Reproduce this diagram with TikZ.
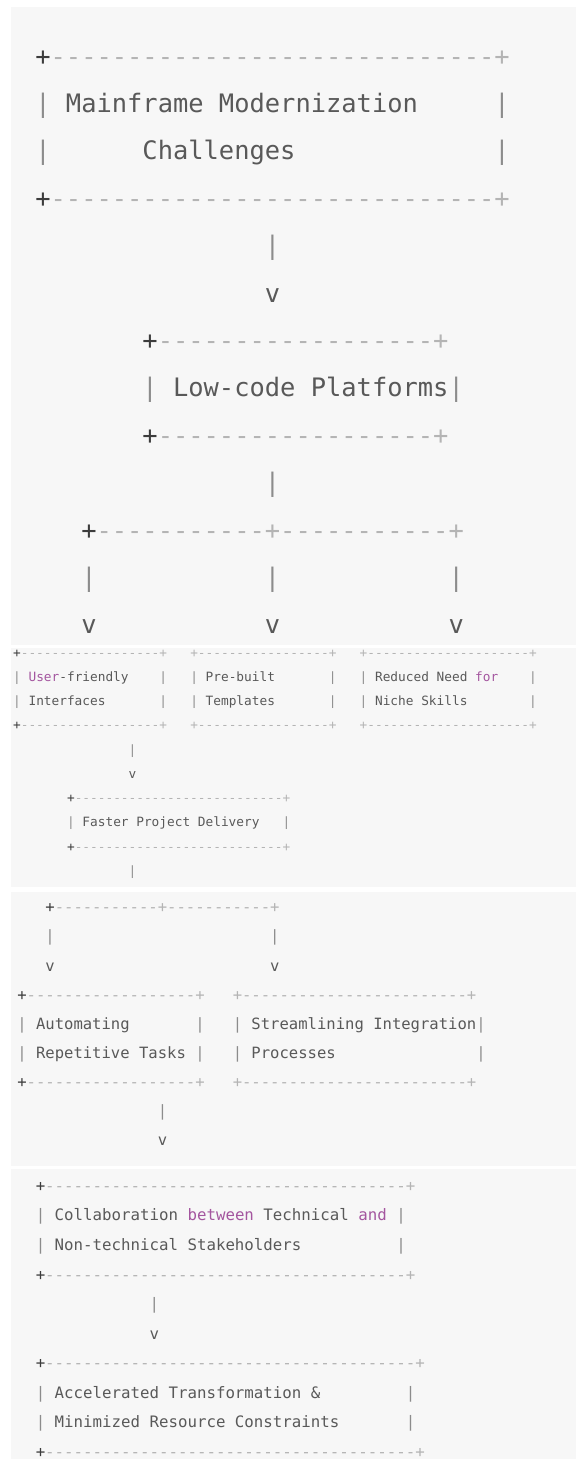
\documentclass[tikz,border=0pt]{standalone}
\usepackage{fontspec}
\setmonofont{DejaVu Sans Mono}
\definecolor{panelbg}{HTML}{F7F7F7}
\definecolor{textgray}{HTML}{595959}
\definecolor{plusdark}{HTML}{3C3C3C}
\definecolor{dashgray}{HTML}{B4B4B4}
\definecolor{pipegray}{HTML}{8C8C8C}
\definecolor{kwpurple}{HTML}{A4569F}
\newcommand\dsh[1]{\foreach\nd in {1,...,#1}{-}}
\newcommand\spc[1]{\foreach\nd in {1,...,#1}{~}}
\newcommand\bpipe{\textcolor{pipegray}{|}}
\newcommand\bplus{\textcolor{plusdark}{+}}
\newcommand\kw[1]{\textcolor{kwpurple}{#1}}

\begin{document}
\begin{tikzpicture}[x=1pt,y=-1pt,
  asc/.style={anchor=mid west,inner sep=0pt,outer sep=0pt,text=textgray},
  bigtt/.style={asc,font=\ttfamily\fontsize{25.42}{30}\selectfont},
  smalltt/.style={asc,font=\ttfamily\fontsize{12.79}{15}\selectfont},
  midtt/.style={asc,font=\ttfamily\fontsize{15.56}{18}\selectfont},
  lowtt/.style={asc,font=\ttfamily\fontsize{15.76}{18}\selectfont}]
  \useasboundingbox (0,0) rectangle (576,1459);
  \fill[white] (0,0) rectangle (576,1459);
  \fill[panelbg] (11,7) rectangle (576,645);
  \fill[panelbg] (11,648) rectangle (576,887);
  \fill[panelbg] (11,892) rectangle (576,1166);
  \fill[panelbg] (11,1169) rectangle (576,1459);
  % first shot
  \node[bigtt] (mmtop) at (35.35,63.0) {\bplus\textcolor{dashgray}{\dsh{29}+}};
  \node[bigtt] (mma) at (35.35,110.4) {\bpipe~Mainframe~Modernization\spc{5}\bpipe};
  \node[bigtt] (mmb) at (35.35,157.8) {\bpipe\spc{6}Challenges\spc{13}\bpipe};
  \node[bigtt] (mmbot) at (35.35,205.2) {\bplus\textcolor{dashgray}{\dsh{29}+}};
  \node[bigtt] (mmbar) at (35.35,252.6) {\spc{15}\bpipe};
  \node[bigtt] (mmv) at (35.35,300.0) {\spc{15}v};
  \node[bigtt] (lctop) at (35.35,347.4) {\spc{7}\bplus\textcolor{dashgray}{\dsh{18}+}};
  \node[bigtt] (lc) at (35.35,394.8) {\spc{7}\bpipe~Low-code~Platforms\bpipe};
  \node[bigtt] (lcbot) at (35.35,442.2) {\spc{7}\bplus\textcolor{dashgray}{\dsh{18}+}};
  \node[bigtt] (lcbar) at (35.35,489.6) {\spc{15}\bpipe};
  \node[bigtt] (fork) at (35.35,537.0) {\spc{3}\bplus\textcolor{dashgray}{\dsh{11}+\dsh{11}+}};
  \node[bigtt] (forkbar) at (35.35,584.4) {\spc{3}\bpipe\spc{11}\bpipe\spc{11}\bpipe};
  \node[bigtt] (forkv) at (35.35,631.8) {\spc{3}v\spc{11}v\spc{11}v};
  % second shot
  \node[smalltt] (ftop) at (13.15,655.0) {\bplus\textcolor{dashgray}{\dsh{18}+}\spc{3}\textcolor{dashgray}{+\dsh{17}+}\spc{3}\textcolor{dashgray}{+\dsh{21}+}};
  \node[smalltt] (fa) at (13.15,679.3) {\bpipe~\kw{User}-friendly\spc{4}\bpipe\spc{3}\bpipe~Pre-built\spc{7}\bpipe\spc{3}\bpipe~Reduced~Need~\kw{for}\spc{4}\bpipe};
  \node[smalltt] (fb) at (13.15,703.5) {\bpipe~Interfaces\spc{7}\bpipe\spc{3}\bpipe~Templates\spc{7}\bpipe\spc{3}\bpipe~Niche~Skills\spc{8}\bpipe};
  \node[smalltt] (fbot) at (13.15,727.8) {\bplus\textcolor{dashgray}{\dsh{18}+}\spc{3}\textcolor{dashgray}{+\dsh{17}+}\spc{3}\textcolor{dashgray}{+\dsh{21}+}};
  \node[smalltt] (fbar) at (13.15,752.0) {\spc{15}\bpipe};
  \node[smalltt] (fv) at (13.15,776.3) {\spc{15}v};
  \node[smalltt] (fptop) at (13.15,800.6) {\spc{7}\bplus\textcolor{dashgray}{\dsh{27}+}};
  \node[smalltt] (fp) at (13.15,824.8) {\spc{7}\bpipe~Faster~Project~Delivery\spc{3}\bpipe};
  \node[smalltt] (fpbot) at (13.15,849.1) {\spc{7}\bplus\textcolor{dashgray}{\dsh{27}+}};
  \node[smalltt] (fpbar) at (13.15,873.3) {\spc{15}\bpipe};
  % third shot
  \node[midtt] (split) at (17.3,910.7) {\spc{3}\bplus\textcolor{dashgray}{\dsh{11}+\dsh{11}+}};
  \node[midtt] (splitbar) at (17.3,939.8) {\spc{3}\bpipe\spc{23}\bpipe};
  \node[midtt] (splitv) at (17.3,968.9) {\spc{3}v\spc{23}v};
  \node[midtt] (attop) at (17.3,997.9) {\bplus\textcolor{dashgray}{\dsh{18}+}\spc{3}\textcolor{dashgray}{+\dsh{24}+}};
  \node[midtt] (ata) at (17.3,1027.0) {\bpipe~Automating\spc{7}\bpipe\spc{3}\bpipe~Streamlining~Integration\bpipe};
  \node[midtt] (atb) at (17.3,1056.1) {\bpipe~Repetitive~Tasks~\bpipe\spc{3}\bpipe~Processes\spc{15}\bpipe};
  \node[midtt] (atbot) at (17.3,1085.2) {\bplus\textcolor{dashgray}{\dsh{18}+}\spc{3}\textcolor{dashgray}{+\dsh{24}+}};
  \node[midtt] (atbar) at (17.3,1114.3) {\spc{15}\bpipe};
  \node[midtt] (atv) at (17.3,1143.3) {\spc{15}v};
  % fourth shot
  \node[lowtt] (cotop) at (35.75,1189.3) {\bplus\textcolor{dashgray}{\dsh{38}+}};
  \node[lowtt] (coa) at (35.75,1218.8) {\bpipe~Collaboration~\kw{between}~Technical~\kw{and}~\bpipe};
  \node[lowtt] (cob) at (35.75,1248.4) {\bpipe~Non-technical~Stakeholders\spc{10}\bpipe};
  \node[lowtt] (cobot) at (35.75,1277.9) {\bplus\textcolor{dashgray}{\dsh{38}+}};
  \node[lowtt] (cobar) at (35.75,1307.4) {\spc{12}\bpipe};
  \node[lowtt] (cov) at (35.75,1337.0) {\spc{12}v};
  \node[lowtt] (actop) at (35.75,1366.5) {\bplus\textcolor{dashgray}{\dsh{39}+}};
  \node[lowtt] (aca) at (35.75,1396.0) {\bpipe~Accelerated~Transformation~\&\spc{9}\bpipe};
  \node[lowtt] (acb) at (35.75,1425.6) {\bpipe~Minimized~Resource~Constraints\spc{7}\bpipe};
  \node[lowtt] (acbot) at (35.75,1455.1) {\bplus\textcolor{dashgray}{\dsh{39}+}};
\end{tikzpicture}
\end{document}
